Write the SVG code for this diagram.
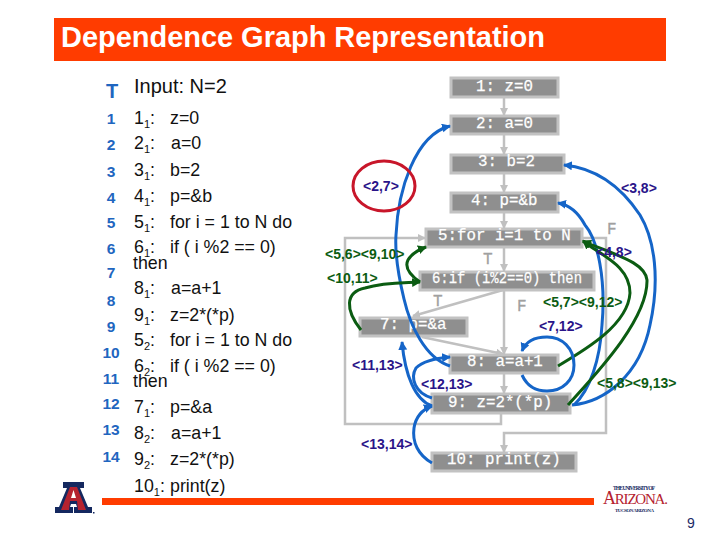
<svg xmlns="http://www.w3.org/2000/svg" width="720" height="540" viewBox="0 0 720 540">
<style>
.h{font-family:"Liberation Sans",Arial,sans-serif}
.code{font-family:"Liberation Sans",Arial,sans-serif;font-size:17.800px;fill:#111}
.sub{font-size:11px}
.num{font-family:"Liberation Sans",Arial,sans-serif;font-size:15.500px;font-weight:bold;fill:#1f66c0;text-anchor:middle}
.box{fill:#8f8f8f;stroke:#c2c2c2;stroke-width:3}
.nt{font-family:"Liberation Mono","Courier New",monospace;font-size:15.800px;fill:#fff;stroke:#fff;stroke-width:.25}
.tf{font-family:"Liberation Mono","Courier New",monospace;font-size:16px;fill:#a0a0a0;stroke:#a0a0a0;stroke-width:.3}
.e{fill:none;stroke:#c0c0c0;stroke-width:2.500;marker-end:url(#ag)}
.b{fill:none;stroke:#1565c8;stroke-width:3;marker-end:url(#ab)}
.g{fill:none;stroke:#0b5c12;stroke-width:3;marker-end:url(#agr)}
.nv{font-family:"Liberation Sans",Arial,sans-serif;font-size:14px;font-weight:bold;fill:#2a1489}
.gn{font-family:"Liberation Sans",Arial,sans-serif;font-size:14px;font-weight:bold;fill:#0b5c12}
</style>
<defs>
<marker id="ag" markerUnits="userSpaceOnUse" markerWidth="10" markerHeight="10" refX="7" refY="4" orient="auto"><path d="M0 0L8 4L0 8z" fill="#c0c0c0"/></marker>
<marker id="ab" markerUnits="userSpaceOnUse" markerWidth="12" markerHeight="12" refX="8" refY="4.500" orient="auto"><path d="M0 0L9 4.500L0 9z" fill="#1565c8"/></marker>
<marker id="agr" markerUnits="userSpaceOnUse" markerWidth="12" markerHeight="12" refX="8" refY="4.500" orient="auto"><path d="M0 0L9 4.500L0 9z" fill="#0b5c12"/></marker>
</defs>
<rect width="720" height="540" fill="#fff"/>
<rect x="54" y="18" width="612" height="43" fill="#ff3c00"/>
<text class="h" x="61" y="47" font-size="29" font-weight="bold" fill="#fff" textLength="484">Dependence Graph Representation</text>
<text class="h" x="134" y="93" font-size="20" fill="#111">Input: N=2</text>

<g id="line-numbers">
<text class="num" x="112" y="98" style="font-size:20px">T</text>
<text class="num" x="111" y="124">1</text><text class="num" x="111" y="150">2</text><text class="num" x="111" y="177">3</text><text class="num" x="111" y="203">4</text><text class="num" x="111" y="228">5</text><text class="num" x="111" y="254">6</text><text class="num" x="111" y="278">7</text><text class="num" x="111" y="306">8</text><text class="num" x="111" y="332">9</text><text class="num" x="111" y="358">10</text><text class="num" x="111" y="384">11</text><text class="num" x="111" y="409">12</text><text class="num" x="111" y="435">13</text><text class="num" x="111" y="462">14</text>
</g>
<g id="code">
<text class="code" x="134" y="124">1<tspan class="sub" dy="4">1</tspan><tspan dy="-4">:</tspan><tspan x="170">z=0</tspan></text>
<text class="code" x="134" y="149">2<tspan class="sub" dy="4">1</tspan><tspan dy="-4">:</tspan><tspan x="171">a=0</tspan></text>
<text class="code" x="134" y="176">3<tspan class="sub" dy="4">1</tspan><tspan dy="-4">:</tspan><tspan x="170">b=2</tspan></text>
<text class="code" x="134" y="202">4<tspan class="sub" dy="4">1</tspan><tspan dy="-4">:</tspan><tspan x="170">p=&amp;b</tspan></text>
<text class="code" x="134" y="228">5<tspan class="sub" dy="4">1</tspan><tspan dy="-4">:</tspan><tspan x="170">for i = 1 to N do</tspan></text>
<text class="code" x="134" y="253">6<tspan class="sub" dy="4">1</tspan><tspan dy="-4">:</tspan><tspan x="170">if ( i %2 == 0)</tspan></text>
<text class="code" x="133" y="269">then</text>
<text class="code" x="134" y="294">8<tspan class="sub" dy="4">1</tspan><tspan dy="-4">:</tspan><tspan x="171">a=a+1</tspan></text>
<text class="code" x="134" y="321">9<tspan class="sub" dy="4">1</tspan><tspan dy="-4">:</tspan><tspan x="170">z=2*(*p)</tspan></text>
<text class="code" x="134" y="346">5<tspan class="sub" dy="4">2</tspan><tspan dy="-4">:</tspan><tspan x="170">for i = 1 to N do</tspan></text>
<text class="code" x="134" y="372">6<tspan class="sub" dy="4">2</tspan><tspan dy="-4">:</tspan><tspan x="170">if ( i %2 == 0)</tspan></text>
<text class="code" x="133" y="387">then</text>
<text class="code" x="134" y="413">7<tspan class="sub" dy="4">1</tspan><tspan dy="-4">:</tspan><tspan x="170">p=&amp;a</tspan></text>
<text class="code" x="134" y="439">8<tspan class="sub" dy="4">2</tspan><tspan dy="-4">:</tspan><tspan x="171">a=a+1</tspan></text>
<text class="code" x="134" y="465">9<tspan class="sub" dy="4">2</tspan><tspan dy="-4">:</tspan><tspan x="170">z=2*(*p)</tspan></text>
<text class="code" x="134" y="492">10<tspan class="sub" dy="4">1</tspan><tspan dy="-4">:</tspan><tspan x="170">print(z)</tspan></text>
</g>

<g id="control-flow">
<path class="e" d="M504 98V115"/><path class="e" d="M504 135V154"/><path class="e" d="M504 174V192"/><path class="e" d="M504 213V228"/><path class="e" d="M504 248V271"/>
<path class="e" d="M504 291V354"/><path class="e" d="M504 374V393"/>
<path class="e" d="M503 290L413 316"/><path class="e" d="M422 337L503 354"/>
<path class="e" d="M501 414V424H345V238H425"/>
<path class="e" d="M583 238H606V433H504V452"/>
<text class="tf" x="483" y="264">T</text><text class="tf" x="607" y="234">F</text><text class="tf" x="433" y="306">T</text><text class="tf" x="517" y="311">F</text>
</g>

<g id="n1"><rect class="box" x="451" y="78" width="107" height="19"/><text class="nt" x="476" y="91">1: z=0</text></g>
<g id="n2"><rect class="box" x="451" y="116" width="107" height="18"/><text class="nt" x="476" y="128">2: a=0</text></g>
<g id="n3"><rect class="box" x="451" y="155" width="113" height="18"/><text class="nt" x="478" y="166">3: b=2</text></g>
<g id="n4"><rect class="box" x="451" y="193" width="107" height="19"/><text class="nt" x="471" y="205">4: p=&amp;b</text></g>
<g id="n5"><rect class="box" x="426" y="229" width="156" height="18"/><text class="nt" x="438" y="240">5:for i=1 to N</text></g>
<g id="n6"><rect class="box" x="420" y="272" width="174" height="18"/><text class="nt" x="432" y="283" textLength="150" lengthAdjust="spacingAndGlyphs">6:if (i%2==0) then</text></g>
<g id="n7"><rect class="box" x="360" y="318" width="107" height="18"/><text class="nt" x="380" y="329">7: p=&amp;a</text></g>
<g id="n8"><rect class="box" x="450" y="355" width="108" height="18"/><text class="nt" x="467" y="366">8: a=a+1</text></g>
<g id="n9"><rect class="box" x="432" y="394" width="138" height="19"/><text class="nt" x="448" y="407">9: z=2*(*p)</text></g>
<g id="n10"><rect class="box" x="432" y="453" width="144" height="18"/><text class="nt" x="447" y="464">10: print(z)</text></g>

<g id="dependences">
<path class="b" d="M450 366C425 358 410 325 404 299C397 270 395 250 396 235C398 190 415 135 450 126"/>
<path class="b" d="M572 405C605 402 640 375 650 325C660 280 655 240 640 215C620 185 595 168 564 165"/>
<path class="b" d="M574 405C590 390 600 360 602 325C606 280 598 240 585 225C578 212 570 205 558 203"/>
<path class="g" d="M558 366C585 350 628 325 630 293C630 265 600 255 583 241"/>
<path class="g" d="M568 405C595 375 648 320 647 280C645 262 615 255 583 241"/>
<path class="g" d="M361 330C345 310 345 292 365 288C385 282 405 283 420 282"/>
<path class="g" d="M420 282C410 275 404 268 408 260C412 253 418 250 426 247"/>
<path class="b" d="M522 375C528 388 537 391 547 391C563 391 574 380 574 365C574 348 562 337 547 337C536 337 526 341 522 351"/>
<path class="b" d="M432 406C415 400 405 375 402 342"/>
<path class="b" d="M432 398C415 393 410 378 416 368C424 360 438 358 450 357"/>
<path class="b" d="M432 463C418 455 412 442 414 428C416 415 424 409 432 406"/>
<ellipse cx="384" cy="186" rx="31" ry="25" fill="none" stroke="#c8162a" stroke-width="3"/>
</g>

<g id="labels">
<text class="nv" x="363" y="191">&lt;2,7&gt;</text>
<text class="gn" x="325" y="259">&lt;5,6&gt;&lt;9,10&gt;</text>
<text class="gn" x="327" y="283">&lt;10,11&gt;</text>
<text class="nv" x="621" y="193">&lt;3,8&gt;</text>
<text class="nv" x="596" y="257">&lt;4,8&gt;</text>
<text class="gn" x="543" y="307">&lt;5,7&gt;&lt;9,12&gt;</text>
<text class="nv" x="539" y="331">&lt;7,12&gt;</text>
<text class="gn" x="597" y="388">&lt;5,8&gt;&lt;9,13&gt;</text>
<text class="nv" x="352" y="370">&lt;11,13&gt;</text>
<text class="nv" x="421" y="389">&lt;12,13&gt;</text>
<text class="nv" x="361" y="449">&lt;13,14&gt;</text>
</g>

<rect x="102" y="498" width="492" height="7" fill="#ff3c00"/>
<g id="ua-logo">
<path d="M55 513V507H59L67 488H63V482H84V488H80L88 507H92V513H74V507H77L76 504H71L70 507H73V513Z" fill="#14285f"/>
<path d="M61 510L70 487H77L86 510H78L77 501H70L69 510Z" fill="#b5222f"/>
<path d="M71 498H76L73.500 490Z" fill="#fff"/>
<rect x="93" y="512" width="1.500" height="1.500" fill="#14285f"/>
</g>
<g id="arizona-logo" font-family="Liberation Serif,serif">
<text x="613" y="490" font-size="5.500" font-weight="bold" fill="#14285f" textLength="42">THE UNIVERSITY OF</text>
<text x="603" y="504" font-size="15" fill="#b5222f" textLength="65"><tspan font-size="18">A</tspan>RIZONA.</text>
<text x="615" y="512" font-size="5" font-weight="bold" fill="#14285f" textLength="39">TUCSON ARIZONA</text>
</g>
<text class="h" x="687" y="528" font-size="14" fill="#1c2a66">9</text>
</svg>
